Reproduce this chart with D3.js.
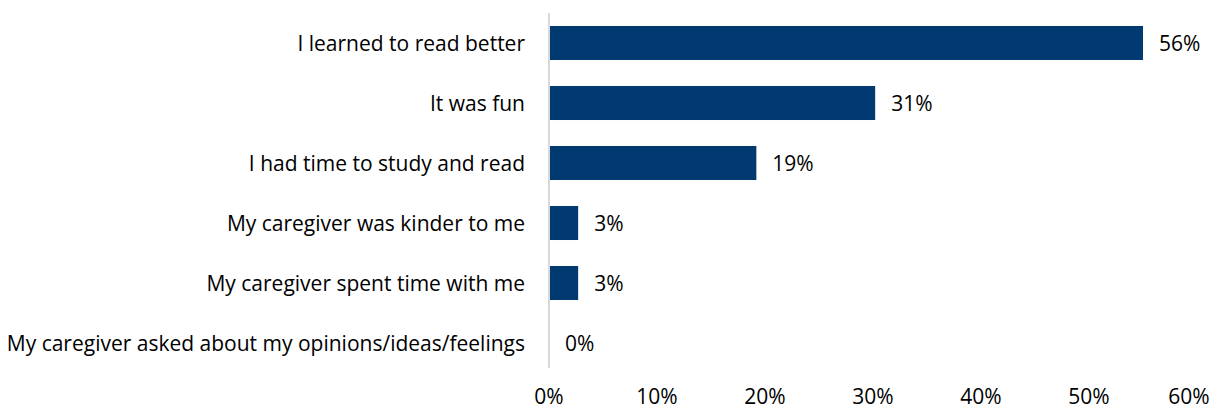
<!DOCTYPE html>
<html>
<head>
<meta charset="utf-8">
<script src="https://cdn.jsdelivr.net/npm/d3@7"></script>
<style>
  html, body { margin: 0; padding: 0; background: #fff; }
  svg { display: block; }
  text { font-family: "Open Sans", sans-serif; fill: #000; }
</style>
</head>
<body>
<svg id="chart" width="1211" height="410"></svg>
<script>
const categories = [
  "I learned to read better",
  "It was fun",
  "I had time to study and read",
  "My caregiver was kinder to me",
  "My caregiver spent time with me",
  "My caregiver asked about my opinions/ideas/feelings"
];
const values = [55.0, 30.2, 19.2, 2.7, 2.7, 0];
const valueLabels = ["56%", "31%", "19%", "3%", "3%", "0%"];
const tickValues = [0, 10, 20, 30, 40, 50, 60];
const tickLabels = ["0%", "10%", "20%", "30%", "40%", "50%", "60%"];

const svg = d3.select("#chart");

// fit font size so the longest category label spans ~518px, like the reference
const probe = svg.append("text").attr("font-size", 20).text(categories[5]);
const w20 = probe.node().getComputedTextLength();
probe.remove();
const fontSize = Math.round(20 * 518 / w20 * 10) / 10;

const x = d3.scaleLinear().domain([0, 60]).range([549, 1197]);
const y = d3.scaleBand().domain(categories).range([13, 373]).paddingInner(0.433).paddingOuter(0.2165);

// bars
svg.selectAll("rect.bar").data(categories).join("rect")
  .attr("class", "bar")
  .attr("x", x(0))
  .attr("y", d => y(d))
  .attr("width", (d, i) => x(values[i]) - x(0))
  .attr("height", y.bandwidth())
  .attr("fill", "#003a70");

// axis line
svg.append("line")
  .attr("x1", x(0)).attr("x2", x(0))
  .attr("y1", 13).attr("y2", 368)
  .attr("stroke", "#d9d9d9").attr("stroke-width", 2);

// category labels
svg.selectAll("text.cat").data(categories).join("text")
  .attr("class", "cat")
  .attr("x", 525)
  .attr("y", d => y(d) + y.bandwidth() / 2)
  .attr("text-anchor", "end")
  .attr("dominant-baseline", "central")
  .attr("font-size", fontSize)
  .text(d => d);

// value labels
svg.selectAll("text.val").data(categories).join("text")
  .attr("class", "val")
  .attr("x", (d, i) => x(values[i]) + 16)
  .attr("y", d => y(d) + y.bandwidth() / 2)
  .attr("dominant-baseline", "central")
  .attr("font-size", fontSize)
  .text((d, i) => valueLabels[i]);

// x tick labels (last one pulled in to fit the frame)
svg.selectAll("text.tick").data(tickValues).join("text")
  .attr("class", "tick")
  .attr("x", d => Math.min(x(d), 1189))
  .attr("y", 396)
  .attr("text-anchor", "middle")
  .attr("dominant-baseline", "central")
  .attr("font-size", fontSize)
  .text((d, i) => tickLabels[i]);
</script>
</body>
</html>
